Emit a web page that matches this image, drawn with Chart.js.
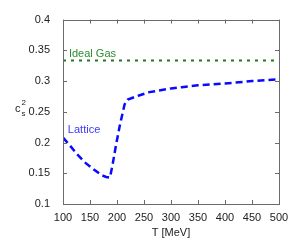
<!DOCTYPE html>
<html><head><meta charset="utf-8">
<script src="https://cdn.jsdelivr.net/npm/chart.js@4/dist/chart.umd.min.js"></script>
<style>html,body{margin:0;padding:0;background:#fff}#wrap{width:296px;height:240px}</style>
</head><body><div id="wrap"><canvas id="c" width="296" height="240"></canvas></div>
<script>
const latticeT = [100,112,125,140,156,171,180,187,192,198,205,214,220,242,260,300,320,350,400,450,500];
const latticeCs2 = [0.208,0.196,0.182,0.168,0.157,0.147,0.144,0.143,0.165,0.195,0.227,0.262,0.270,0.277,0.282,0.288,0.290,0.293,0.296,0.300,0.303];
const idealT = [100,500];
const idealCs2 = [0.3333,0.3333];
const xTicks = [100,150,200,250,300,350,400,450,500];
const yTicks = [0.1,0.15,0.2,0.25,0.3,0.35,0.4];
const FONT = '"Liberation Sans", Arial, sans-serif';

const decor = {
  id:'decor',
  afterDraw(chart){
    const ctx = chart.ctx, a = chart.chartArea, xs = chart.scales.x, ys = chart.scales.y;
    ctx.save();
    ctx.strokeStyle = '#6b6b6b'; ctx.lineWidth = 1;
    ctx.beginPath();
    xTicks.forEach(v=>{ const p = Math.round(xs.getPixelForValue(v))+0.5;
      ctx.moveTo(p,a.bottom); ctx.lineTo(p,a.bottom-4);
      ctx.moveTo(p,a.top); ctx.lineTo(p,a.top+4); });
    yTicks.forEach(v=>{ const p = Math.round(ys.getPixelForValue(v))+0.5;
      ctx.moveTo(a.left,p); ctx.lineTo(a.left+4,p);
      ctx.moveTo(a.right,p); ctx.lineTo(a.right-4,p); });
    ctx.stroke();
    ctx.strokeRect(Math.round(a.left)+0.5, Math.round(a.top)+0.5, Math.round(a.right-a.left), Math.round(a.bottom-a.top));
    ctx.textBaseline = 'middle'; ctx.textAlign = 'left';
    ctx.font = '11px ' + FONT;
    ctx.fillStyle = '#2e8b2e';
    ctx.fillText('Ideal Gas', xs.getPixelForValue(111), ys.getPixelForValue(0.344));
    ctx.fillStyle = '#3a3aff';
    ctx.fillText('Lattice', xs.getPixelForValue(109), ys.getPixelForValue(0.221));
    // y axis title c_s^2
    ctx.fillStyle = '#222';
    ctx.textBaseline = 'alphabetic';
    ctx.font = '11px ' + FONT;
    ctx.fillText('c', 15, 112);
    ctx.font = '8px ' + FONT;
    ctx.fillText('2', 21.5, 105);
    ctx.fillText('s', 21.5, 116);
    ctx.restore();
  }
};

new Chart(document.getElementById('c'), {
  type:'scatter',
  data:{ datasets:[
    { data: idealT.map((t,i)=>({x:t,y:idealCs2[i]})), showLine:true, borderColor:'#1f7a1f', borderWidth:2,
      borderDash:[3,5], pointRadius:0, fill:false },
    { data: latticeT.map((t,i)=>({x:t,y:latticeCs2[i]})), showLine:true, borderColor:'#0a0aff', borderWidth:2.5,
      borderDash:[7,4], pointRadius:0, fill:false, tension:0 }
  ]},
  options:{
    responsive:false, animation:false, devicePixelRatio:1,
    layout:{ padding:{ left:0, right:17, top:13, bottom:0 } },
    plugins:{ legend:{display:false}, tooltip:{enabled:false} },
    scales:{
      x:{ type:'linear', min:100, max:500, border:{display:false},
        afterBuildTicks(s){ s.ticks = xTicks.map(v=>({value:v})); },
        afterFit(s){ s.height = 36; },
        grid:{ display:false, drawTicks:false },
        ticks:{ padding:7, color:'#222', font:{family:FONT,size:11}, maxRotation:0, autoSkip:false },
        title:{ display:true, text:'T [MeV]', color:'#222', font:{family:FONT,size:11}, padding:{top:3,bottom:0} } },
      y:{ type:'linear', min:0.1, max:0.4, border:{display:false},
        afterBuildTicks(s){ s.ticks = yTicks.map(v=>({value:v})); },
        afterFit(s){ s.width = 63; },
        grid:{ display:false, drawTicks:false },
        ticks:{ padding:13, color:'#222', font:{family:FONT,size:11}, autoSkip:false,
          callback:(v)=>String(parseFloat(v.toFixed(2))) } }
    }
  },
  plugins:[decor]
});
</script></body></html>
